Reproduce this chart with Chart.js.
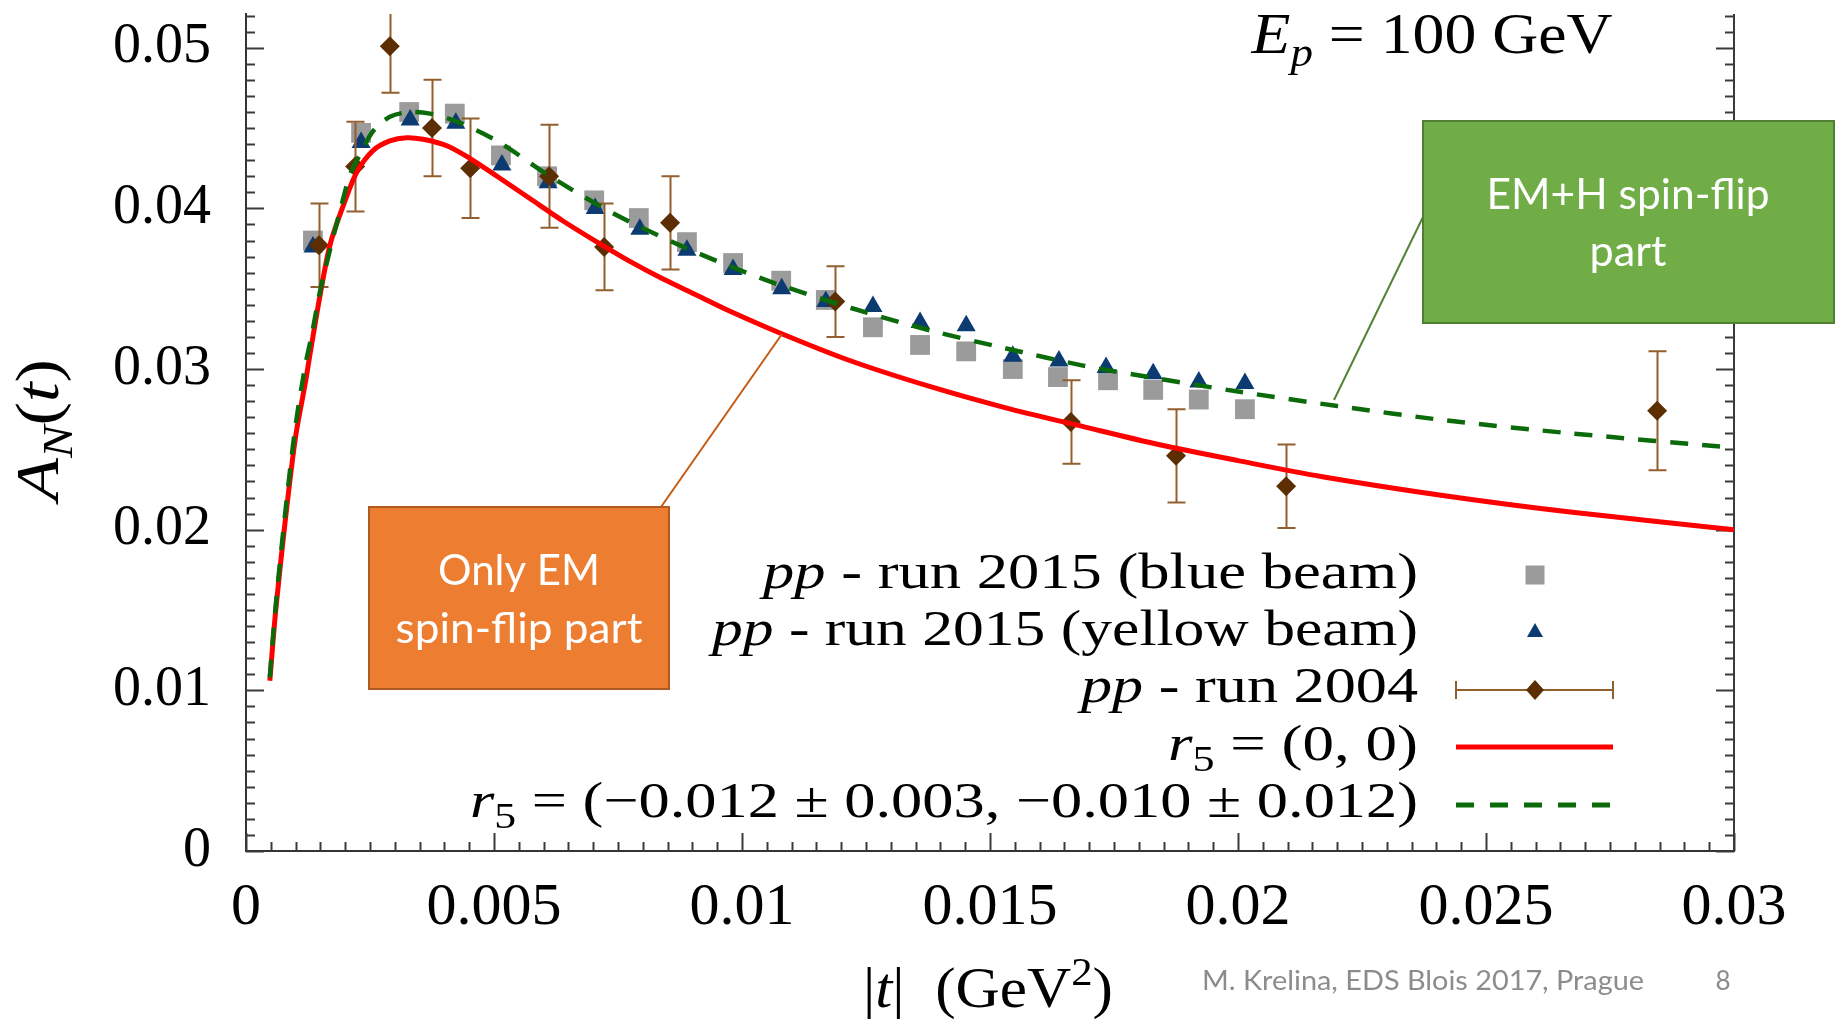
<!DOCTYPE html>
<html lang="en">
<head>
<meta charset="UTF-8">
<title>A_N(t) at E_p = 100 GeV</title>
<script src="https://cdn.jsdelivr.net/npm/chart.js"></script>
<style>
  html, body { margin: 0; padding: 0; background: #fff; }
  .chart-box { width: 1841px; height: 1022px; }
</style>
</head>
<body>
<div class="chart-box"><canvas id="anChart" width="1841" height="1022"></canvas></div>
<script>
    // |t| values (GeV^2) and A_N
    const tBlue = [0.00135, 0.00232, 0.00329, 0.00421, 0.00514, 0.00607, 0.00702, 0.00792, 0.00889, 0.00982, 0.01079,
                   0.01169, 0.01264, 0.01359, 0.01452, 0.01546, 0.01637, 0.01738, 0.01829, 0.01921, 0.02014];
    const aBlue = [0.0380, 0.0447, 0.0460, 0.0459, 0.0433, 0.0420, 0.0405, 0.0394, 0.0379, 0.0366, 0.0355,
                   0.0343, 0.0326, 0.0315, 0.0311, 0.0300, 0.0295, 0.0293, 0.0287, 0.0281, 0.0275];

    const tYellow = [0.00135, 0.00232, 0.00331, 0.00423, 0.00516, 0.00609, 0.00704, 0.00794, 0.00889, 0.00982, 0.01080,
                     0.01169, 0.01264, 0.01359, 0.01452, 0.01546, 0.01639, 0.01734, 0.01829, 0.01921, 0.02014];
    const aYellow = [0.0376, 0.0441, 0.0455, 0.0453, 0.0427, 0.0416, 0.0400, 0.0387, 0.0374, 0.0362, 0.0350,
                     0.0342, 0.0339, 0.0329, 0.0327, 0.0308, 0.0305, 0.0301, 0.0297, 0.0292, 0.0291];

    const t2004 = [0.00147, 0.00220, 0.00290, 0.00375, 0.00452, 0.00611, 0.00722, 0.00855, 0.01188, 0.01663, 0.01875, 0.02097, 0.02845];
    const a2004 = [0.0377, 0.0426, 0.0501, 0.0450, 0.0425, 0.0420, 0.0376, 0.0391, 0.0342, 0.0267, 0.0246, 0.0227, 0.0274];
    const e2004 = [0.0026, 0.0028, 0.0029, 0.0030, 0.0031, 0.0032, 0.0027, 0.0029, 0.0022, 0.0026, 0.0029, 0.0026, 0.0037];

    // r5 = (0,0)
    const tRed = [0.00048, 0.0006, 0.0008, 0.0010, 0.0012, 0.0013, 0.0015, 0.0017, 0.0020, 0.00224, 0.00256, 0.0029,
                  0.00324, 0.00357, 0.00405, 0.00452, 0.00506, 0.00573, 0.0064, 0.00708, 0.00774, 0.00841, 0.00909,
                  0.00976, 0.0108, 0.0122, 0.0138, 0.0153, 0.0169, 0.0184, 0.0200, 0.0217, 0.0242, 0.0267, 0.0300];
    const aRed = [0.0106, 0.0150, 0.0208, 0.0258, 0.0292, 0.0311, 0.0347, 0.0378, 0.0405, 0.0423, 0.0436, 0.0442,
                  0.0444, 0.0443, 0.0439, 0.0431, 0.0420, 0.0406, 0.0392, 0.0379, 0.0367, 0.0356, 0.0346,
                  0.0336, 0.0322, 0.0305, 0.0289, 0.0276, 0.0264, 0.0253, 0.0243, 0.0233, 0.0221, 0.0211, 0.0200];

    // r5 fitted
    const tGreen = [0.00048, 0.0006, 0.0008, 0.0010, 0.0012, 0.00133, 0.00149, 0.0017, 0.0019, 0.0021, 0.00234, 0.00256,
                    0.0029, 0.00331, 0.00371, 0.00425, 0.00506, 0.00613, 0.0074, 0.00875, 0.00976, 0.0107, 0.0122,
                    0.0138, 0.0153, 0.0169, 0.0184, 0.0200, 0.0220, 0.0242, 0.0267, 0.0300];
    const aGreen = [0.0108, 0.0153, 0.0213, 0.0265, 0.0303, 0.0322, 0.0348, 0.0375, 0.0399, 0.0421, 0.0436, 0.0448,
                    0.0457, 0.0460, 0.0459, 0.0454, 0.0442, 0.0420, 0.0397, 0.0377, 0.0364, 0.0353, 0.0338,
                    0.0324, 0.0313, 0.0302, 0.0294, 0.0286, 0.0277, 0.0268, 0.0260, 0.0251];

    const xMinorStep = 0.0005;
    const yMinorStep = 0.001;

    const serif = '"Liberation Serif", "Times New Roman", serif';
    const sans = 'Lato, "Open Sans", sans-serif';
    const RUN04 = 2;

    const zip = (xs, ys) => xs.map((x, i) => ({ x: x, y: ys[i] }));

    // draws a line of mixed text (italic / sub / sup), optionally stretched to a given width
    function drawRich(ctx, segs, x, y, size, align, width) {
        const parts = segs.map(s => {
            const sz = (s.sub || s.sup) ? Math.round(size * 0.7) : size;
            const font = (s.i ? 'italic ' : '') + sz + 'px ' + serif;
            ctx.font = font;
            return { s: s, font: font, w: ctx.measureText(s.t).width };
        });
        const natural = parts.reduce((a, p) => a + p.w, 0);
        const sx = width ? width / natural : 1;
        ctx.save();
        ctx.translate(x, y);
        ctx.scale(sx, 1);
        ctx.textBaseline = 'alphabetic';
        ctx.textAlign = 'left';
        let cx = align === 'right' ? -natural : align === 'center' ? -natural / 2 : 0;
        parts.forEach(p => {
            ctx.font = p.font;
            const dy = p.s.sub ? size * 0.22 : p.s.sup ? -size * 0.4 : 0;
            ctx.fillText(p.s.t, cx, dy);
            cx += p.w;
        });
        ctx.restore();
    }

    function drawSans(ctx, text, x, y, size, align, width) {
        ctx.font = size + 'px ' + sans;
        const natural = ctx.measureText(text).width;
        ctx.save();
        ctx.translate(x, y);
        ctx.scale(width / natural, 1);
        ctx.textAlign = align;
        ctx.fillText(text, 0, 0);
        ctx.restore();
    }

    const axisTicks = {
        id: 'axisTicks',
        beforeDatasetsDraw(chart) {
            const { ctx, chartArea: a, scales: { x, y } } = chart;
            ctx.save();
            ctx.strokeStyle = '#3a3a3a';
            ctx.lineWidth = 2;
            ctx.beginPath();
            ctx.moveTo(a.right, a.top);
            ctx.lineTo(a.right, a.bottom + 1);
            ctx.stroke();
            for (let i = 0; i * yMinorStep <= y.max; i++) {
                const py = Math.round(y.getPixelForValue(i * yMinorStep)) + 0.5;
                const len = i % 10 === 0 ? 18 : 9;
                ctx.beginPath();
                ctx.moveTo(a.left, py); ctx.lineTo(a.left + len, py);
                ctx.moveTo(a.right, py); ctx.lineTo(a.right - len, py);
                ctx.stroke();
            }
            for (let i = 0; i * xMinorStep <= x.max + 1e-9; i++) {
                const px = Math.round(x.getPixelForValue(i * xMinorStep)) + 0.5;
                const len = i % 10 === 0 ? 18 : 9;
                ctx.beginPath();
                ctx.moveTo(px, a.bottom); ctx.lineTo(px, a.bottom - len);
                ctx.stroke();
            }
            ctx.restore();
        }
    };

    const errorBars = {
        id: 'errorBars',
        beforeDatasetDraw(chart, args) {
            if (args.index !== RUN04) return;
            const { ctx, chartArea: a, scales: { x, y } } = chart;
            ctx.save();
            ctx.beginPath();
            ctx.rect(a.left, a.top, a.right - a.left, a.bottom - a.top);
            ctx.clip();
            ctx.strokeStyle = '#935f2e';
            ctx.lineWidth = 2;
            t2004.forEach((t, i) => {
                const px = Math.round(x.getPixelForValue(t)) + 0.5;
                const top = y.getPixelForValue(a2004[i] + e2004[i]);
                const bot = y.getPixelForValue(a2004[i] - e2004[i]);
                ctx.beginPath();
                ctx.moveTo(px, top); ctx.lineTo(px, bot);
                ctx.moveTo(px - 9, top); ctx.lineTo(px + 9, top);
                ctx.moveTo(px - 9, bot); ctx.lineTo(px + 9, bot);
                ctx.stroke();
            });
            ctx.restore();
        }
    };

    const decorations = {
        id: 'decorations',
        afterDraw(chart) {
            const ctx = chart.ctx;
            ctx.save();
            ctx.fillStyle = '#000';

            // axis titles
            drawRich(ctx, [{ t: '|' }, { t: 't', i: true }, { t: '|  (GeV' }, { t: '2', sup: true }, { t: ')' }],
                988, 1007, 56, 'center', 250);
            ctx.save();
            ctx.translate(58, 430);
            ctx.rotate(-Math.PI / 2);
            drawRich(ctx, [{ t: 'A', i: true }, { t: 'N', i: true, sub: true }, { t: '(' }, { t: 't', i: true }, { t: ')' }],
                0, 0, 62, 'center', 142);
            ctx.restore();

            drawRich(ctx, [{ t: 'E', i: true }, { t: 'p', i: true, sub: true }, { t: ' = 100 GeV' }],
                1432, 53, 58, 'center', 361);

            // legend
            const lx = 1535, lx0 = 1456, lx1 = 1613;
            const rows = [
                { segs: [{ t: 'pp', i: true }, { t: ' - run 2015 (blue beam)' }], w: 655, y: 588 },
                { segs: [{ t: 'pp', i: true }, { t: ' - run 2015 (yellow beam)' }], w: 706, y: 645 },
                { segs: [{ t: 'pp', i: true }, { t: ' - run 2004' }], w: 337, y: 702 },
                { segs: [{ t: 'r', i: true }, { t: '5', sub: true }, { t: ' = (0, 0)' }], w: 250, y: 760 },
                { segs: [{ t: 'r', i: true }, { t: '5', sub: true }, { t: ' = (\u22120.012 \u00b1 0.003, \u22120.010 \u00b1 0.012)' }], w: 948, y: 817 }
            ];
            rows.forEach(r => drawRich(ctx, r.segs, 1418, r.y, 50, 'right', r.w));

            ctx.fillStyle = '#9b9b9b';
            ctx.fillRect(lx - 9.5, 575 - 9.5, 19, 19);

            ctx.fillStyle = '#0b3b70';
            ctx.beginPath();
            ctx.moveTo(lx, 632 - 9);
            ctx.lineTo(lx + 8, 632 + 5);
            ctx.lineTo(lx - 8, 632 + 5);
            ctx.closePath();
            ctx.fill();

            ctx.strokeStyle = '#935f2e';
            ctx.lineWidth = 2;
            ctx.beginPath();
            ctx.moveTo(lx0, 690); ctx.lineTo(lx1, 690);
            ctx.moveTo(lx0, 681); ctx.lineTo(lx0, 699);
            ctx.moveTo(lx1, 681); ctx.lineTo(lx1, 699);
            ctx.stroke();
            ctx.fillStyle = '#5c2e02';
            ctx.beginPath();
            ctx.moveTo(lx, 680); ctx.lineTo(lx + 9, 690); ctx.lineTo(lx, 700); ctx.lineTo(lx - 9, 690);
            ctx.closePath();
            ctx.fill();

            ctx.lineWidth = 5;
            ctx.strokeStyle = '#ff0000';
            ctx.beginPath(); ctx.moveTo(lx0, 747); ctx.lineTo(lx1, 747); ctx.stroke();
            ctx.strokeStyle = '#0b6b0b';
            ctx.setLineDash([18, 16]);
            ctx.beginPath(); ctx.moveTo(lx0, 805); ctx.lineTo(lx1, 805); ctx.stroke();
            ctx.setLineDash([]);

            // callouts
            ctx.lineWidth = 2;
            ctx.strokeStyle = '#c55a11';
            ctx.beginPath(); ctx.moveTo(661, 507); ctx.lineTo(782, 334); ctx.stroke();
            ctx.strokeStyle = '#548235';
            ctx.beginPath(); ctx.moveTo(1423, 217); ctx.lineTo(1334, 400); ctx.stroke();

            ctx.fillStyle = '#ed7d31';
            ctx.fillRect(369, 507, 300, 182);
            ctx.strokeStyle = '#ae5a21';
            ctx.strokeRect(369, 507, 300, 182);
            ctx.fillStyle = '#70ad47';
            ctx.fillRect(1423, 121, 411, 202);
            ctx.strokeStyle = '#507e32';
            ctx.strokeRect(1423, 121, 411, 202);

            ctx.fillStyle = '#fff';
            ctx.textBaseline = 'alphabetic';
            drawSans(ctx, 'Only EM', 519, 585, 42, 'center', 162);
            drawSans(ctx, 'spin-flip part', 519, 643, 42, 'center', 247);
            drawSans(ctx, 'EM+H spin-flip', 1628, 209, 43, 'center', 283);
            drawSans(ctx, 'part', 1628, 266, 43, 'center', 77);

            // footer
            ctx.fillStyle = '#8c8c8c';
            drawSans(ctx, 'M. Krelina, EDS Blois 2017, Prague', 1202, 990, 26, 'left', 442);
            ctx.font = '26px ' + sans;
            ctx.textAlign = 'center';
            ctx.fillText('8', 1723, 990);
            ctx.restore();
        }
    };

    new Chart(document.getElementById('anChart').getContext('2d'), {
        type: 'scatter',
        data: {
            datasets: [
                {
                    label: 'r5 = (-0.012 ± 0.003, -0.010 ± 0.012)',
                    data: zip(tGreen, aGreen),
                    showLine: true,
                    borderColor: '#0b6b0b',
                    borderWidth: 4.5,
                    borderDash: [18, 14],
                    pointRadius: 0,
                    tension: 0.3
                },
                {
                    label: 'r5 = (0, 0)',
                    data: zip(tRed, aRed),
                    showLine: true,
                    borderColor: '#ff0000',
                    borderWidth: 5,
                    pointRadius: 0,
                    tension: 0.3
                },
                {
                    label: 'pp - run 2004',
                    data: zip(t2004, a2004),
                    pointStyle: 'rectRot',
                    pointRadius: 10,
                    pointBorderWidth: 0,
                    backgroundColor: '#5c2e02'
                },
                {
                    label: 'pp - run 2015 (yellow beam)',
                    data: zip(tYellow, aYellow),
                    pointStyle: 'triangle',
                    pointRadius: 11,
                    pointBorderWidth: 0,
                    backgroundColor: '#0b3b70'
                },
                {
                    label: 'pp - run 2015 (blue beam)',
                    data: zip(tBlue, aBlue),
                    pointStyle: 'rect',
                    pointRadius: 14,
                    pointBorderWidth: 0,
                    backgroundColor: '#9b9b9b'
                }
            ]
        },
        options: {
            responsive: false,
            animation: false,
            events: [],
            layout: { padding: { top: 9, right: 107, left: 0, bottom: 0 } },
            plugins: { legend: { display: false }, tooltip: { enabled: false } },
            scales: {
                x: {
                    type: 'linear',
                    min: 0,
                    max: 0.03,
                    grid: { display: false, drawTicks: false },
                    border: { display: true, color: '#333', width: 2 },
                    ticks: {
                        stepSize: 0.005,
                        padding: 21,
                        color: '#000',
                        maxRotation: 0,
                        autoSkip: false,
                        font: { family: serif, size: 60 },
                        callback: v => String(+v.toFixed(3))
                    },
                    afterFit(s) { s.height = 171; s.paddingLeft = 0; s.paddingRight = 0; }
                },
                y: {
                    min: 0,
                    max: 0.0521,
                    grid: { display: false, drawTicks: false },
                    border: { display: true, color: '#333', width: 2 },
                    ticks: {
                        stepSize: 0.01,
                        includeBounds: false,
                        padding: 35,
                        color: '#000',
                        font: { family: serif, size: 56 },
                        callback: v => String(+v.toFixed(2))
                    },
                    afterFit(s) { s.width = 246; s.paddingTop = 0; s.paddingBottom = 0; }
                }
            }
        },
        plugins: [axisTicks, errorBars, decorations]
    });
</script>
</body>
</html>
